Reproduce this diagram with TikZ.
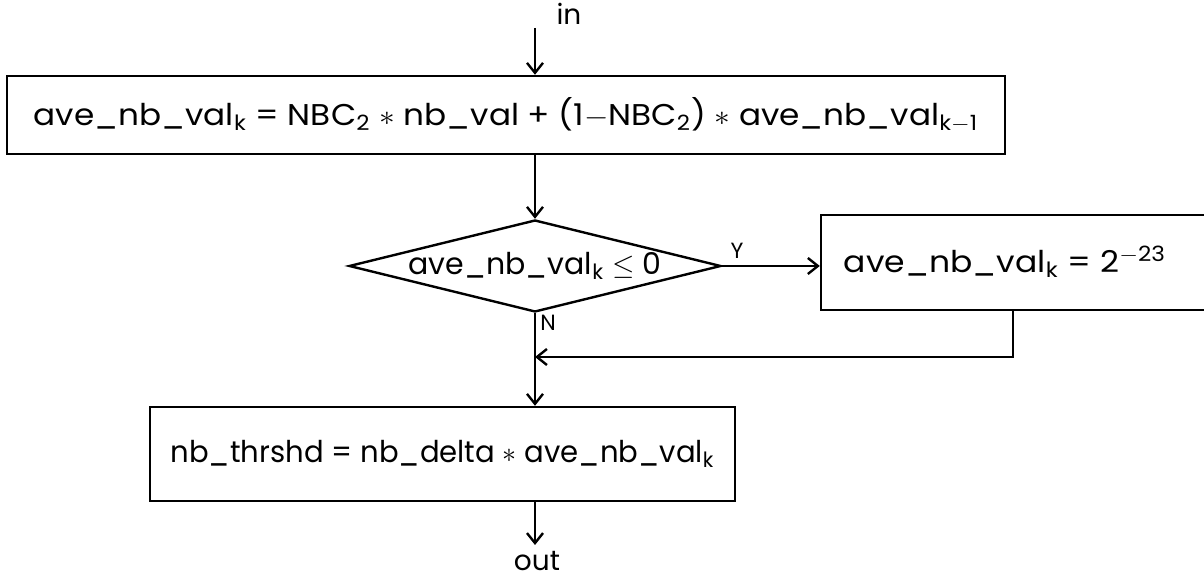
\documentclass[tikz,border=0pt]{standalone}
\usepackage{fontspec}
\setmainfont{Poppins}
\usetikzlibrary{shapes.geometric,arrows.meta}
\begin{document}
\begin{tikzpicture}[x=0.5pt,y=-0.5pt, line width=1.2pt,
  >={Straight Barb[length=5pt,width=8pt]},
  box/.style={draw, rectangle, inner sep=0pt},
  txt/.style={font=\fontsize{15}{17}\selectfont},
  lab/.style={font=\fontsize{14}{16}\selectfont, inner sep=1pt},
  small/.style={font=\fontsize{11}{13}\selectfont, inner sep=1pt}]
\useasboundingbox (0,0) rectangle (1204,581);
% boxes
\node[box, txt, minimum width=499pt, minimum height=39pt] (b1) at (506,115)
  {\scalebox{1.09}[1]{ave\_nb\_val\textsubscript{k} = NBC\textsubscript{2} $\ast$ nb\_val + (1$-$NBC\textsubscript{2}) $\ast$ ave\_nb\_val\textsubscript{k$-$1}}};
\node[diamond, draw, inner sep=0pt, minimum width=186pt, minimum height=46pt] (d) at (535,266) {};
\node[txt] (dt) at (d.center) {ave\_nb\_val\textsubscript{k} $\leq$ 0};
\node[box, minimum width=197pt, minimum height=47.5pt] (b2) at (1018,262.5) {};
\node[txt] (t2) at (1005,262) {\scalebox{1.1}[1]{ave\_nb\_val\textsubscript{k} = 2\textsuperscript{$-$23}}};
\node[box, txt, minimum width=292.5pt, minimum height=47pt] (b3) at (442.5,454)
  {\scalebox{0.97}[1]{nb\_thrshd = nb\_delta $\ast$ ave\_nb\_val\textsubscript{k}}};
% labels
\node[lab] (in) at (569,14) {in};
\node[lab] (out) at (537,561) {out};
\node[small] (Y) at (737,251) {Y};
\node[small] (N) at (548,323) {N};
% connectors
\coordinate (inS) at (535,28);
\coordinate (outE) at (535,545);
\coordinate (r) at (1013,357);
\draw[->] (inS) -- (inS |- b1.north);
\draw[->] (d.north |- b1.south) -- (d.north);
\draw[->] (d.east) -- (d.east -| b2.west);
\draw[->] (d.south) -- (d.south |- b3.north);
\draw[->] (r |- b2.south) -- (r) -- (r -| d.south);
\draw[->] (d.south |- b3.south) -- (outE);
\end{tikzpicture}
\end{document}
